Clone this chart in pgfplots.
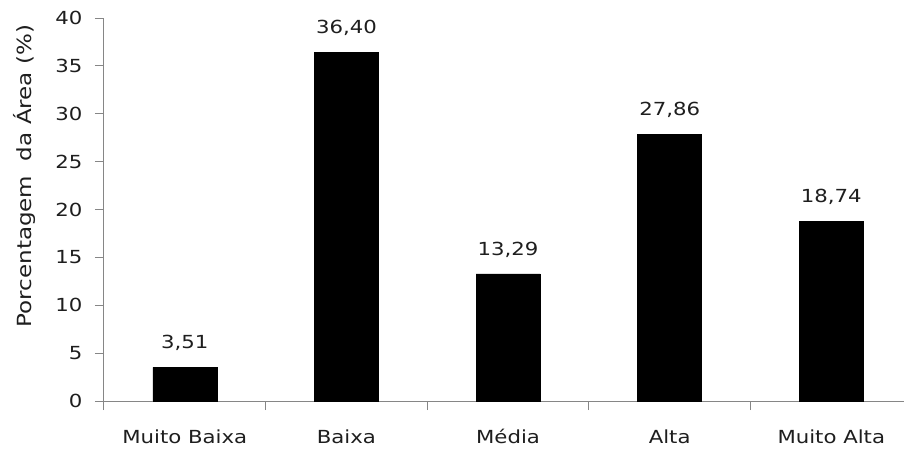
\documentclass[border=0pt]{standalone}
\usepackage{pgfplots}
\pgfplotsset{compat=1.18}
\usepackage{fontspec}
\setmainfont{DejaVu Sans}[FakeStretch=1.18]
\definecolor{axgray}{RGB}{134,134,134}
\definecolor{txt}{RGB}{30,30,30}
\begin{document}
\begin{tikzpicture}
\begin{axis}[
  scale only axis,
  width=800pt, height=383pt,
  xmin=-0.5, xmax=4.45,
  ymin=0, ymax=40,
  axis lines*=left,
  axis line style={-, draw=axgray, line width=1pt},
  tick style={draw=axgray, line width=1pt},
  tick align=outside,
  major tick length=9pt,
  ytick={0,5,...,40},
  xtick={-0.5,0.5,1.5,2.5,3.5},
  xticklabels={},
  extra x ticks={0,1,2,3,4},
  extra x tick labels={Muito Baixa,Baixa,Média,Alta,Muito Alta},
  extra x tick style={tick style={draw=none}, xticklabel style={yshift=-16pt}},
  /pgf/number format/assume math mode=true,
  ticklabel style={font=\fontsize{18}{21}\selectfont, text=txt},
  yticklabel style={xshift=-9pt},
  ylabel={Porcentagem\ \ da Área (\%)},
  ylabel style={font=\fontsize{19.5}{22}\selectfont, text=txt, at={(axis description cs:-0.1,0.587)}, anchor=center},
  ybar, bar width=64pt,
  clip=false,
  nodes near coords={\pgfmathprintnumber[fixed,fixed zerofill,precision=2,use comma]{\pgfplotspointmeta}},
  every node near coord/.append style={font=\fontsize{18}{21}\selectfont, text=txt, yshift=13pt},
]
\addplot[fill=black, draw=black] coordinates {(0,3.51) (1,36.40) (2,13.29) (3,27.86) (4,18.74)};
\end{axis}
\pgfresetboundingbox
\path[use as bounding box] (-104pt,-47pt) rectangle (800pt,401pt);
\end{tikzpicture}
\end{document}
